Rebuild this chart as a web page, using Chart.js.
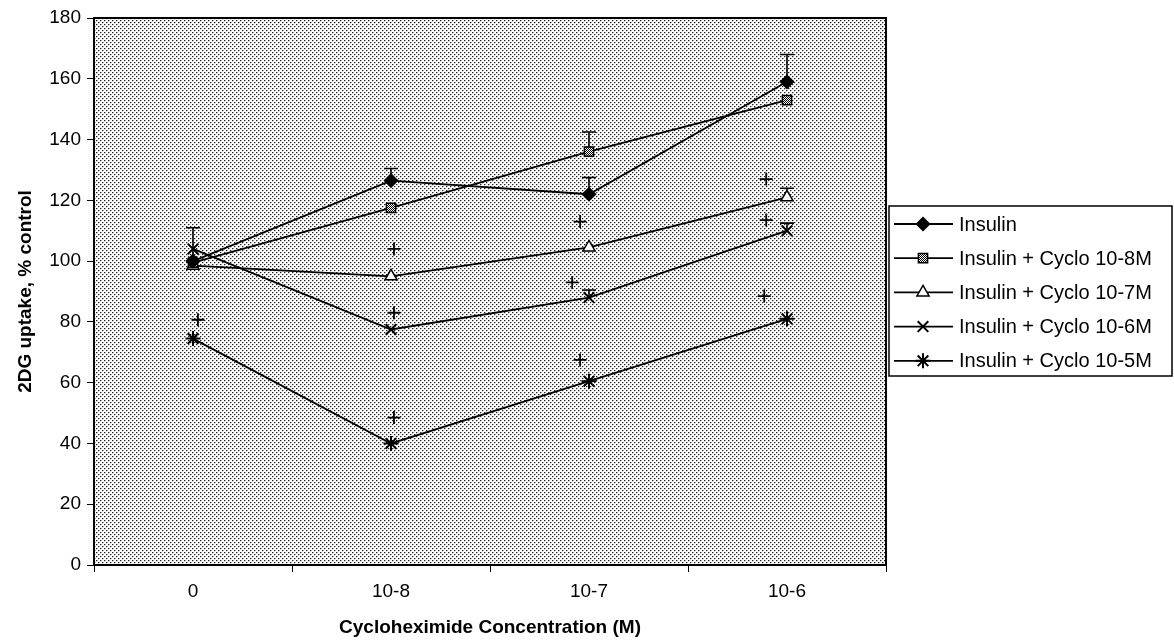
<!DOCTYPE html>
<html>
<head>
<meta charset="utf-8">
<script src="https://cdn.jsdelivr.net/npm/chart.js@4"></script>
<style>
  html, body { margin: 0; padding: 0; background: #fff; }
</style>
</head>
<body>
<canvas id="grafico" width="1174" height="643"></canvas>
<script>
const categorias = ["0", "10-8", "10-7", "10-6"];
const posicoes = [0, 1, 2, 3];

const insulina = [100, 126.5, 122, 159];
const insulinaErro = [11, 4, 5.5, 9];
const cyclo8 = [99.5, 117.5, 136, 153];
const cyclo8Erro = [0, 0, 6.5, 0];
const cyclo7 = [98.5, 95, 104.5, 121];
const cyclo7Erro = [0, 0, 0, 3];
const cyclo6 = [104, 77.5, 88, 110];
const cyclo6Erro = [0, 0, 2.5, 2.5];
const cyclo5 = [74.5, 40, 60.5, 81];

// marcas "+" de significancia
const cruzX = [0.025, 1.015, 1.015, 1.015, 1.955, 1.915, 1.955, 2.895, 2.895, 2.885];
const cruzY = [80.7, 104, 83, 48.5, 113, 93, 67.5, 127, 113.5, 88.5];

const ticksY = [0, 20, 40, 60, 80, 100, 120, 140, 160, 180];

Chart.defaults.font.family = "'Liberation Sans', Arial, sans-serif";
Chart.defaults.color = "#000";

const ctx = document.getElementById("grafico").getContext("2d");

const criarPadrao = (tam, pontos) => {
  const c = document.createElement("canvas");
  c.width = tam; c.height = tam;
  const g = c.getContext("2d");
  g.fillStyle = "#fff";
  g.fillRect(0, 0, tam, tam);
  pontos.forEach(([x, y, cor]) => { g.fillStyle = cor; g.fillRect(x, y, 1, 1); });
  return ctx.createPattern(c, "repeat");
};

const padraoFundo = criarPadrao(4, [[0, 0, "#222"], [2, 2, "#222"], [1, 0, "#aaa"], [3, 2, "#aaa"], [0, 1, "#ccc"], [2, 3, "#ccc"]]);
const padraoQuadrado = criarPadrao(2, [[0, 0, "#000"], [1, 1, "#000"]]);

const serie = (label, valores, erros, estilo) => ({
  type: "line",
  label,
  xAxisID: "xl",
  yAxisID: "y",
  data: posicoes.map((x, i) => ({ x, y: valores[i] })),
  erros,
  borderColor: "#000",
  borderWidth: 1.8,
  tension: 0,
  pointBorderColor: "#000",
  pointBorderWidth: 1.5,
  ...estilo,
});

const datasets = [
  serie("Insulin", insulina, insulinaErro, { pointStyle: "rectRot", pointRadius: 6.5, pointBackgroundColor: "#000" }),
  serie("Insulin + Cyclo 10-8M", cyclo8, cyclo8Erro, { pointStyle: "rect", pointRadius: 6.5, pointBackgroundColor: padraoQuadrado }),
  serie("Insulin + Cyclo 10-7M", cyclo7, cyclo7Erro, { pointStyle: "triangle", pointRadius: 7, pointBackgroundColor: "#fff" }),
  serie("Insulin + Cyclo 10-6M", cyclo6, cyclo6Erro, { pointStyle: "crossRot", pointRadius: 7.5, pointBorderWidth: 2 }),
  serie("Insulin + Cyclo 10-5M", cyclo5, null, { pointStyle: "star", pointRadius: 7.5, pointBorderWidth: 2 }),
  {
    type: "scatter",
    label: "",
    xAxisID: "xl",
    yAxisID: "y",
    data: cruzX.map((x, i) => ({ x, y: cruzY[i] })),
    pointStyle: "cross",
    pointRadius: 6.5,
    borderColor: "#000",
    pointBorderWidth: 1.8,
    showLine: false,
  },
];

const fundo = {
  id: "fundo",
  beforeDraw(chart) {
    const { left, top, right, bottom } = chart.chartArea;
    const c = chart.ctx;
    c.save();
    c.fillStyle = padraoFundo;
    c.fillRect(left, top, right - left, bottom - top);
    c.restore();
  },
  beforeDatasetsDraw(chart) {
    const { left, top, right, bottom } = chart.chartArea;
    const c = chart.ctx;
    c.save();
    c.strokeStyle = "#000";
    c.lineWidth = 2;
    c.strokeRect(left, top, right - left, bottom - top);

    // barras de erro (so para cima)
    const sx = chart.scales.xl, sy = chart.scales.y;
    c.lineWidth = 1.6;
    chart.data.datasets.forEach((ds) => {
      if (!ds.erros) return;
      ds.data.forEach((p, i) => {
        const e = ds.erros[i];
        if (!e) return;
        const x = sx.getPixelForValue(p.x);
        const y0 = sy.getPixelForValue(p.y);
        const y1 = sy.getPixelForValue(p.y + e);
        c.beginPath();
        c.moveTo(x, y0); c.lineTo(x, y1);
        c.moveTo(x - 7, y1); c.lineTo(x + 7, y1);
        c.stroke();
      });
    });
    c.restore();
  },
};

const legenda = {
  id: "legenda",
  afterDraw(chart) {
    const c = chart.ctx;
    const esq = chart.chartArea.right + 3, topo = 206, larg = 283, alt = 170;
    c.save();
    c.fillStyle = "#fff";
    c.fillRect(esq, topo, larg, alt);
    c.strokeStyle = "#000";
    c.lineWidth = 1.5;
    c.strokeRect(esq, topo, larg, alt);
    c.font = "20px 'Liberation Sans', Arial, sans-serif";
    c.textBaseline = "middle";
    chart.data.datasets.filter((ds) => ds.label).forEach((ds, i) => {
      const y = topo + 18 + i * 34.2;
      c.strokeStyle = "#000";
      c.lineWidth = 1.8;
      c.beginPath();
      c.moveTo(esq + 5, y); c.lineTo(esq + 64, y);
      c.stroke();
      c.fillStyle = ds.pointBackgroundColor || "#000";
      c.lineWidth = ds.pointBorderWidth;
      Chart.helpers.drawPoint(c, { pointStyle: ds.pointStyle, radius: ds.pointRadius, borderWidth: ds.pointBorderWidth, rotation: 0 }, esq + 34, y);
      c.fillStyle = "#000";
      c.fillText(ds.label, esq + 70, y + 1);
    });
    c.restore();
  },
};

new Chart(ctx, {
  data: { labels: categorias, datasets },
  plugins: [fundo, legenda],
  options: {
    responsive: false,
    animation: false,
    devicePixelRatio: 1,
    layout: { padding: { top: 18, right: 288, left: 0, bottom: 0 } },
    plugins: { legend: { display: false }, tooltip: { enabled: false } },
    scales: {
      x: {
        type: "category",
        labels: categorias,
        offset: true,
        grid: { offset: true, drawOnChartArea: false, tickLength: 7, color: "#000", lineWidth: 1 },
        border: { display: false },
        ticks: { font: { size: 19 }, padding: 8 },
        title: { display: true, text: "Cycloheximide Concentration (M)", font: { size: 19, weight: "bold" }, padding: { top: 6 } },
        afterFit: (s) => { s.height = 78; },
      },
      xl: { type: "linear", min: -0.5, max: 3.5, display: false },
      y: {
        min: 0,
        max: 180,
        afterBuildTicks: (s) => { s.ticks = ticksY.map((v) => ({ value: v })); },
        grid: { drawOnChartArea: false, tickLength: 7, color: "#000", lineWidth: 1 },
        border: { display: false },
        ticks: { font: { size: 19 }, padding: 6 },
        title: { display: true, text: "2DG uptake, % control", font: { size: 19, weight: "bold" }, padding: { top: 14, bottom: 0 } },
        afterFit: (s) => { s.width = 94; },
      },
    },
  },
});
</script>
</body>
</html>
